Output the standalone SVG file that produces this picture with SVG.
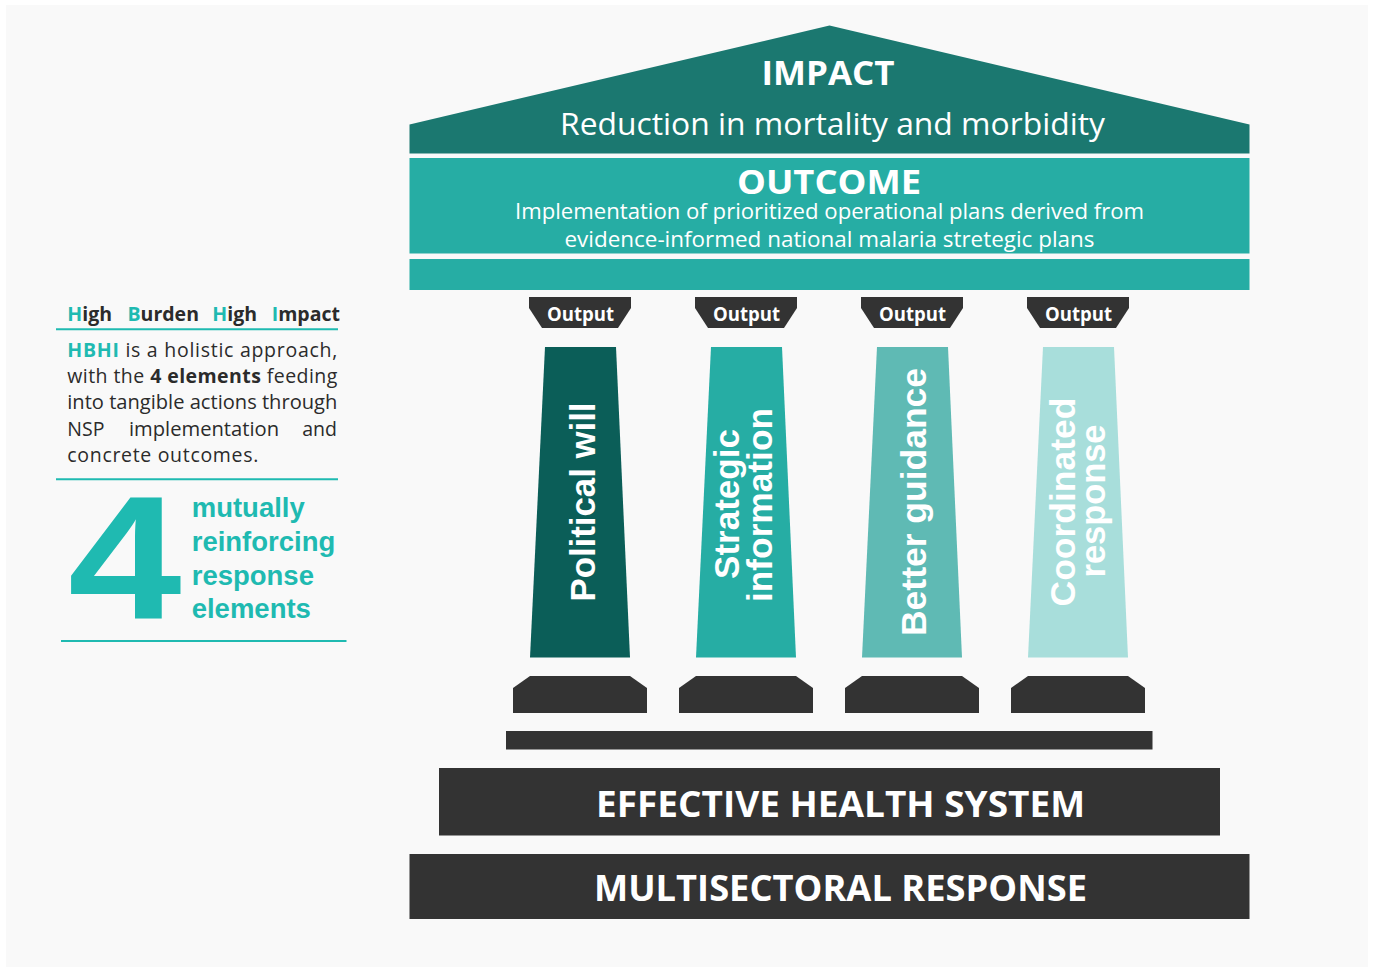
<svg xmlns="http://www.w3.org/2000/svg" width="1375" height="968" viewBox="0 0 1375 968">
<style>
.w{fill:#ffffff}
.dk{fill:#333333}
.teal{fill:#1fbab1}
.ttl{font-family:"Open Sans","Liberation Sans",sans-serif;fill:#ffffff;text-anchor:middle}
.col{font-family:"Liberation Sans",Arial,sans-serif;font-weight:bold;fill:#ffffff;text-anchor:middle;font-size:35px}
.out{font-family:"Open Sans","Liberation Sans",sans-serif;font-weight:bold;fill:#ffffff;text-anchor:middle;font-size:19px}
.body{font-family:"Open Sans","Liberation Sans",sans-serif;fill:#2b2b2b;font-size:19.5px}
.bold{font-weight:bold}
.big{font-family:"Liberation Sans",Arial,sans-serif;font-weight:bold;fill:#1fbab1}
.line{stroke:#1fbab1;stroke-width:2;fill:none}
</style>
<rect x="0" y="0" width="1375" height="968" fill="#ffffff"/>
<rect x="6" y="5" width="1362" height="962" fill="#f9f9f9"/>

<g id="impact">
  <polygon points="409.5,124.5 829.5,25.5 1249.5,124.5 1249.5,153.5 409.5,153.5" fill="#1b7870"/>
  <text class="ttl" x="828" y="85" font-size="34" font-weight="bold" textLength="133" lengthAdjust="spacingAndGlyphs">IMPACT</text>
  <text class="ttl" x="832.5" y="135" font-size="31" textLength="545" lengthAdjust="spacingAndGlyphs">Reduction in mortality and morbidity</text>
</g>

<g id="outcome">
  <rect x="409.5" y="158" width="840" height="95.5" fill="#26ada4"/>
  <text class="ttl" x="829" y="194" font-size="34" font-weight="bold" textLength="184" lengthAdjust="spacingAndGlyphs">OUTCOME</text>
  <text class="ttl" x="829.5" y="219" font-size="21" textLength="629" lengthAdjust="spacingAndGlyphs">Implementation of prioritized operational plans derived from</text>
  <text class="ttl" x="829.5" y="247" font-size="21" textLength="530" lengthAdjust="spacingAndGlyphs">evidence-informed national malaria stretegic plans</text>
</g>

<g id="beam">
  <rect x="409.5" y="259" width="840" height="31" fill="#26ada4"/>
</g>

<g id="pillar-1">
  <polygon class="dk" points="529,297 631,297 631,308 618,328 542,328 529,308"/>
  <text class="out" x="580.5" y="321" textLength="67" lengthAdjust="spacingAndGlyphs">Output</text>
  <polygon points="545,347 616,347 630,657.5 530,657.5" fill="#0b5e58"/>
  <text class="col" transform="translate(595,502) rotate(-90)" textLength="199" lengthAdjust="spacingAndGlyphs">Political will</text>
  <polygon class="dk" points="530,676 630,676 647,688 647,713 513,713 513,688"/>
</g>

<g id="pillar-2">
  <polygon class="dk" points="695,297 797,297 797,308 784,328 708,328 695,308"/>
  <text class="out" x="746.5" y="321" textLength="67" lengthAdjust="spacingAndGlyphs">Output</text>
  <polygon points="711,347 782,347 796,657.5 696,657.5" fill="#26ada4"/>
  <text class="col" transform="translate(739,504) rotate(-90)" textLength="150" lengthAdjust="spacingAndGlyphs">Strategic</text>
  <text class="col" transform="translate(772,505) rotate(-90)" textLength="194" lengthAdjust="spacingAndGlyphs">information</text>
  <polygon class="dk" points="696,676 796,676 813,688 813,713 679,713 679,688"/>
</g>

<g id="pillar-3">
  <polygon class="dk" points="861,297 963,297 963,308 950,328 874,328 861,308"/>
  <text class="out" x="912.5" y="321" textLength="67" lengthAdjust="spacingAndGlyphs">Output</text>
  <polygon points="877,347 948,347 962,657.5 862,657.5" fill="#5fbab4"/>
  <text class="col" transform="translate(926,502) rotate(-90)" textLength="268" lengthAdjust="spacingAndGlyphs">Better guidance</text>
  <polygon class="dk" points="862,676 962,676 979,688 979,713 845,713 845,688"/>
</g>

<g id="pillar-4">
  <polygon class="dk" points="1027,297 1129,297 1129,308 1116,328 1040,328 1027,308"/>
  <text class="out" x="1078.5" y="321" textLength="67" lengthAdjust="spacingAndGlyphs">Output</text>
  <polygon points="1043,347 1114,347 1128,657.5 1028,657.5" fill="#a8dedb"/>
  <text class="col" transform="translate(1075,502) rotate(-90)" textLength="209" lengthAdjust="spacingAndGlyphs">Coordinated</text>
  <text class="col" transform="translate(1105,501) rotate(-90)" textLength="153" lengthAdjust="spacingAndGlyphs">response</text>
  <polygon class="dk" points="1028,676 1128,676 1145,688 1145,713 1011,713 1011,688"/>
</g>

<g id="plinth">
  <rect class="dk" x="506" y="731" width="646.5" height="18.5"/>
</g>

<g id="health-system">
  <rect class="dk" x="439" y="768" width="781" height="67.5"/>
  <text class="ttl" x="840.5" y="817" font-size="35" font-weight="bold" textLength="489" lengthAdjust="spacingAndGlyphs">EFFECTIVE HEALTH SYSTEM</text>
</g>

<g id="multisectoral">
  <rect class="dk" x="409.5" y="854" width="840" height="65"/>
  <text class="ttl" x="840.5" y="901" font-size="35" font-weight="bold" textLength="493" lengthAdjust="spacingAndGlyphs">MULTISECTORAL RESPONSE</text>
</g>

<g id="hbhi-panel">
  <text class="body bold" y="320.5" font-size="19.5">
    <tspan x="67.3" class="teal">H</tspan><tspan>igh</tspan>
    <tspan x="127.5" class="teal">B</tspan><tspan>urden</tspan>
    <tspan x="212.3" class="teal">H</tspan><tspan>igh</tspan>
    <tspan x="271.7" class="teal">I</tspan><tspan>mpact</tspan>
  </text>
  <line class="line" x1="56" y1="329.3" x2="338" y2="329.3"/>
  <text class="body" x="67.3" y="356.7" textLength="270" lengthAdjust="spacing"><tspan class="teal bold">HBHI</tspan> is a holistic approach,</text>
  <text class="body" x="67.3" y="382.7" textLength="270" lengthAdjust="spacing">with the <tspan class="bold">4 elements</tspan> feeding</text>
  <text class="body" x="67.3" y="409" textLength="270" lengthAdjust="spacingAndGlyphs">into tangible actions through</text>
  <text class="body" y="435.7"><tspan x="67.3">NSP</tspan><tspan x="129" textLength="150" lengthAdjust="spacingAndGlyphs">implementation</tspan><tspan x="337" text-anchor="end">and</tspan></text>
  <text class="body" x="67.3" y="461.7" textLength="191" lengthAdjust="spacing">concrete outcomes.</text>
  <line class="line" x1="56" y1="479.3" x2="338" y2="479.3"/>
  <text class="big" transform="translate(68,619.3) scale(1.16,1)" x="0" y="0" font-size="176">4</text>
  <text class="big" font-size="27.5">
    <tspan x="191.7" y="516.7">mutually</tspan>
    <tspan x="191.7" y="551">reinforcing</tspan>
    <tspan x="191.7" y="584.5">response</tspan>
    <tspan x="191.7" y="618">elements</tspan>
  </text>
  <line class="line" x1="61" y1="641" x2="346.5" y2="641"/>
</g>
</svg>
